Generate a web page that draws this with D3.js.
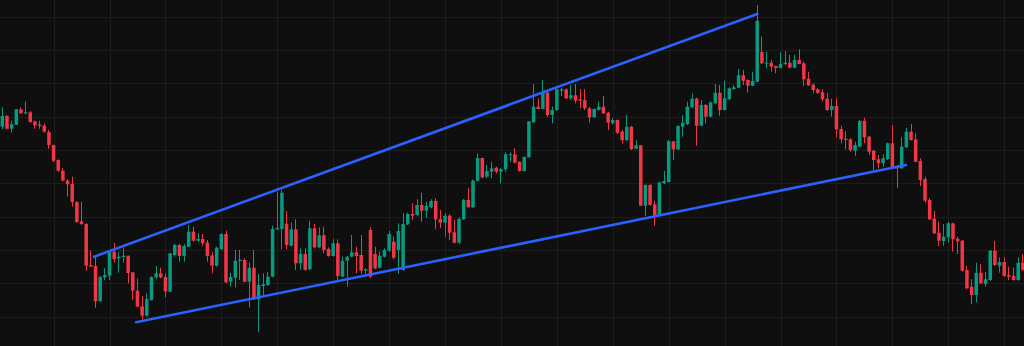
<!DOCTYPE html>
<html><head><meta charset="utf-8">
<script src="https://cdn.jsdelivr.net/npm/d3@7"></script>
<style>html,body{margin:0;padding:0;background:#0f0f0f;overflow:hidden}</style>
</head><body><svg id="c" width="1024" height="346"></svg>
<script>
// OHLC candles, [open, high, low, close]
const candles = [
[219.3,238.7,216.7,230],[230,231,216.7,217.3],[217.3,225.3,213.3,221.7],[221.3,237,221,236.7],[236.7,238.7,232,232.7],
[232.7,244.7,231.7,233.7],[233.7,235,223.3,224],[224.7,225.3,217.3,220.7],[221.3,225.3,217.3,220],[220.3,222.7,213.3,214.3],
[214,216,197.3,201],[201,201.3,184,185.3],[186,186.7,174.3,175.3],[175.3,178,164.7,165.3],[165.3,167,149.3,161.7],
[162,169.3,139.3,144],[144,144.7,123.3,124],[124.7,144.3,121,122],[122,122.7,75.3,80.3],[81,95.3,79.3,79.3],
[80,89.3,38.3,44.7],[44.7,69.3,44.3,69.3],[68.7,77.7,66,71],[70.3,96,66,94],[94.3,103.3,83.3,87],
[87.7,94.3,73.3,89.3],[89,98.3,83.3,90.3],[90.3,90.3,62.7,73],[73.7,73.7,46,55.3],[55.3,67.3,39.3,39.3],
[39.7,50,26.7,30.3],[30.3,52.7,29.3,47],[46,69.7,45.3,69],[68.7,80,66.7,72.7],[72.7,78.3,67.7,68.7],
[69,72.7,48.7,54.7],[54.3,93,54,92.7],[91,102,89.3,101],[101,102,84.3,90],[90,102,84.3,100],
[99.3,121,98.7,114.3],[114.3,119.3,104.3,105.3],[105.3,112.7,104.3,107],[107,112,100,102.7],[103.3,106,84.3,90],
[90.7,94.3,72.7,80.3],[80.3,99.3,79.3,98.3],[97,112.7,96,112],[112,115.3,62.7,63.7],[64.3,73.3,59.3,69],
[68.3,96,58.7,85.3],[85,96,66,86.3],[86,87.7,63.7,64.3],[64.3,83.7,38.7,78.3],[78.3,96,46,46.7],
[46.7,72,14.3,61],[60,72.7,49.3,61.7],[61,74.3,60,69.3],[69.3,120.3,68.7,117],[116.7,154.3,116,118],
[117,156,96.7,153.3],[122.3,135,96.7,101],[100.3,123.7,99.7,116.7],[116.7,126.7,76,82.7],[82.7,97.7,76,92],
[92,97.7,75.3,76],[76.7,125.3,76,117.7],[117.7,122,97.7,98.7],[98.7,118.7,97.7,110.7],[110.7,119.3,92.7,96],
[97,98.7,89.3,90],[90,106.7,89.3,102.7],[102.7,106.7,65.3,70],[69.3,89.3,69.3,85.3],[85.3,90,59.3,89.3],
[89.3,111,88.7,93.7],[93.7,99.3,72.7,90],[91,111,72,75.3],[75.3,77.7,72,76.7],[116,118.7,67.7,69.3],
[92,99.3,76.7,77.7],[78.3,94.3,77.7,90.3],[89.3,97.7,88.7,96],[95.3,115,94.3,112],[104.3,109.3,86.7,88.3],
[96,122.7,72,115],[76,132.7,75.3,122],[121.7,133.3,121,132],[132,142.7,126,130.3],[131,146.7,130,141],
[141,153.3,124.3,135.3],[135.3,144.3,128.3,140],[138.7,146.7,137.7,145],[145,147.7,116.7,126.7],[127,136,117.7,123.3],
[123.3,132.7,109.3,130.3],[130.3,131.7,106,113.3],[113.7,126,102.7,103.3],[103.3,128.7,102,127],[126.7,147,126,146],
[146,157.7,138.7,138.7],[138.7,166.7,138.3,165.3],[165.3,192.7,164.3,188],[188,188.3,167.7,168.7],[169.3,181,167.7,175],
[174.3,184.3,167.7,177.7],[178.3,179.3,172.7,174.3],[174.3,177.7,162.7,177],[176.7,193.7,174.3,191.7],[190.7,193.7,184.3,191.7],
[191.7,197.7,182.7,183.3],[184.3,184.3,174.3,175],[175,189.5,174.5,189],[188.7,225,188.5,224.7],[223.7,262,223.3,239.3],
[239.3,247.7,237,237],[237,266,236.7,253.3],[253.3,254.3,229.3,231],[231,239.3,222.7,236],[236,257.7,235.3,256.7],
[255.3,258.3,250,256.7],[256.7,257.7,247,247.7],[247.7,261,246,250.7],[250.7,262,242.7,245.3],[246.7,256.7,237.7,245.3],
[246,256.7,236,237.7],[237.7,239.3,223.3,228.7],[228.7,237.7,228.3,237],[236,244.3,235.3,239.3],[239.3,250,232,232.7],
[233.3,234.3,216,223.3],[222.7,227.7,222,226],[226,226.7,212,213.3],[214.3,216,202.7,206],[206,231,205,219.3],
[219.3,220,196,197],[197.3,206,196.7,200.7],[200.7,201,140,140.3],[140.3,161.7,130,161],[161,161.7,140.3,141],
[141.7,145.3,120.3,130.3],[130.3,164,130,163.7],[162.7,175,162,165],[164,206,163.7,204.7],[204.7,205,186,196.7],
[196.7,220.7,196,220],[219.3,231,209.3,223.3],[222,244.3,221,239.3],[238.7,252.7,237.7,247.3],[247.3,248.3,200.3,220.3],
[220.3,246,220,241],[241,242,222.7,229.3],[229.3,244.3,228.7,243.7],[242.7,262,242,253.3],[253.3,261,230.3,236],
[236,265.3,235.3,247.7],[246.7,258.7,246,257.7],[257,261,256,258.7],[258.3,277,257.7,270.7],[270.7,276,261,265.3],
[266,266.7,253.3,260.3],[260.3,274.3,259.7,265],[264.3,341,264,325.3],[294,309.3,282,282.7],[282.7,294.3,277.7,283.3],
[283.3,286,274.3,279.3],[280,280.3,272.7,278],[278,293.7,277.7,282],[282,295,281,283.3],[283.3,291,277.7,278.3],
[278.3,291,277.7,286],[286,296.7,281.7,282],[282.7,284.3,260,266.7],[267.3,274.3,260,260.7],[261.3,262.7,252.7,256],
[256.7,257.7,252,253.3],[253.7,256.7,244.3,246.7],[247.3,253.3,235,236],[236,247.3,229.3,240],[240,247.7,208.7,216.7],
[217,220.3,202.7,206.7],[207.3,215,196.7,206],[206.7,207.7,194.3,196],[195.3,204.3,190,201],[199.3,226,198.7,225],
[225,228.3,202.7,208.7],[209.3,210,191,194.3],[195.3,196,176,186],[186.7,191,177.7,182.7],[182.7,191.7,179.3,187.7],
[187,203.3,186,202.7],[202.7,221,177.7,178.3],[179.3,180.7,158.3,177.7],[177.7,208.7,177,199.3],[198.7,218.3,197.7,214.3],
[214.3,222,205.3,206],[206.7,212.7,183.7,184.3],[185,187.7,160,166],[167,169.3,143.3,145.3],[146,147.7,126,126.7],
[127.3,135,112,112.7],[113.3,124.3,100,105.3],[105,122,100.3,109.3],[108.7,124.3,103.3,122.7],[122.7,123.3,94.3,106.7],
[107.3,109.3,92,104.7],[105.3,106,74.3,75.3],[76,80.3,56.7,57.7],[59.3,66.7,41.7,51],[51,83.3,43.7,73.3],
[73.3,81.7,62,62.7],[62,74.3,59.3,66.7],[66,96,65.3,95.3],[95.3,105,80.3,81],[80.3,88.7,73.3,84],
[84,88.7,69.3,70],[71,79.3,66,69.3],[70,78.3,65.3,66],[66,88.7,65.3,83.3],[83.3,91.7,75.3,76]
];
// trend lines: [index, price] endpoints
const upperLine = [[19.7, 89.3], [162, 332]];
const lowerLine = [[28.7, 23.7], [193.9, 181]];
// grid positions
const gridPrices = [29.3, 62.7, 96, 129.3, 162.7, 196, 229.3, 262.7, 296, 329.3];
const gridBars = [11, 23, 35, 47, 59, 71, 83, 95, 107, 119, 131, 143, 155, 167, 179, 191, 203, 215];

const W = 1024, H = 346;
const svg = d3.select("#c");
svg.append("rect").attr("width", W).attr("height", H).attr("fill", "#0f0f0f");

const step = 4.66;
const x = d3.scaleLinear().domain([-0.5, candles.length - 0.5]).range([0, step * candles.length]);
const y = d3.scaleLinear().domain([0, 346]).range([346, 0]);

const g = svg.append("g");
g.selectAll("line.h").data(gridPrices).join("line")
  .attr("x1", 0).attr("x2", W).attr("y1", d => Math.round(y(d)) + 0.5).attr("y2", d => Math.round(y(d)) + 0.5)
  .attr("stroke", "#1d1d1d").attr("stroke-width", 1);
g.selectAll("line.v").data(gridBars).join("line")
  .attr("y1", 0).attr("y2", H).attr("x1", d => Math.round(x(d)) + 0.5).attr("x2", d => Math.round(x(d)) + 0.5)
  .attr("stroke", "#1d1d1d").attr("stroke-width", 1);

const up = "#089981", dn = "#f23645";
const bw = 3.5;
const cg = svg.append("g");
const c = cg.selectAll("g").data(candles).join("g");
c.append("line")
  .attr("x1", (d, i) => Math.floor(x(i)) + 0.5).attr("x2", (d, i) => Math.floor(x(i)) + 0.5)
  .attr("y1", d => y(d[1])).attr("y2", d => y(d[2]))
  .attr("stroke", d => d[3] >= d[0] ? up : dn).attr("stroke-width", 1);
c.append("rect")
  .attr("x", (d, i) => x(i) - bw / 2)
  .attr("width", bw)
  .attr("y", d => y(Math.max(d[0], d[3])))
  .attr("height", d => Math.max(1, Math.abs(y(d[0]) - y(d[3]))))
  .attr("fill", d => d[3] >= d[0] ? up : dn);

const line = d3.line().x(d => x(d[0])).y(d => y(d[1]));
[upperLine, lowerLine].forEach(l => {
  svg.append("path").attr("d", line(l)).attr("fill", "none")
    .attr("stroke", "#2962ff").attr("stroke-width", 2.6).attr("stroke-linecap", "round");
});
</script></body></html>
